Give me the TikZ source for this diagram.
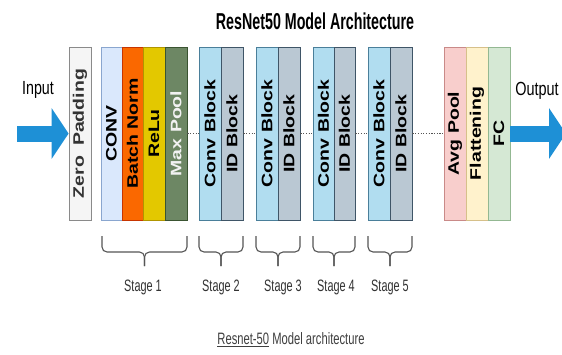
\documentclass[tikz,border=0pt]{standalone}
\usepackage{fontspec}
\setmainfont{Liberation Sans}
\usetikzlibrary{arrows.meta}

% palette
\definecolor{zpFill}{HTML}{F5F5F5}   \definecolor{zpLine}{HTML}{8A8A8A}
\definecolor{convFill}{HTML}{DAE8FC} \definecolor{convLine}{HTML}{8AA6CF}
\definecolor{bnFill}{HTML}{FA6800}   \definecolor{bnLine}{HTML}{C73500}
\definecolor{reluFill}{HTML}{E3C800} \definecolor{reluLine}{HTML}{B09500}
\definecolor{mpFill}{HTML}{6D8764}   \definecolor{mpLine}{HTML}{3A5431}
\definecolor{cbFill}{HTML}{B1DDF0}   \definecolor{cbLine}{HTML}{4A7F9A}
\definecolor{idFill}{HTML}{BAC8D3}   \definecolor{idLine}{HTML}{3F5567}
\definecolor{avgFill}{HTML}{F8CECC}  \definecolor{avgLine}{HTML}{C98A88}
\definecolor{flFill}{HTML}{FFF2CC}   \definecolor{flLine}{HTML}{D6C08A}
\definecolor{fcFill}{HTML}{D5E8D4}   \definecolor{fcLine}{HTML}{93B892}
\definecolor{arrowBlue}{HTML}{1E90D6}
\definecolor{inkGray}{HTML}{333333}
\definecolor{braceGray}{HTML}{555555}

% rotated, slightly narrowed label for the layer boxes
\newcommand{\vlabel}[1]{\rotatebox{90}{\scalebox{1}[0.78]{#1}}}
% horizontally narrowed text
\newcommand{\narrow}[2]{\scalebox{#1}[1]{#2}}
% curly brace under a stage, between two x positions
\newcommand{\stagebrace}[2]{%
  \draw[bracestroke] (#1,236) -- (#1,252) -- ({(#1+#2)/2},252) -- ({(#1+#2)/2},266);
  \draw[bracestroke] (#2,236) -- (#2,252) -- ({(#1+#2)/2},252) -- ({(#1+#2)/2},266);}

\tikzset{
  layer/.style 2 args={fill=#1, draw=#2, line width=0.8pt, inner sep=0pt,
    minimum width=22pt, minimum height=173pt,
    font=\fontsize{19.5}{20}\selectfont\bfseries},
  dotlink/.style={draw=braceGray, line width=1.1pt, dash pattern=on 1.2pt off 1.5pt},
  bigarrow/.style={draw=arrowBlue, line width=16pt,
    -{Triangle[length=17pt,width=50pt]}},
  bracestroke/.style={draw=braceGray, line width=1.1pt, rounded corners=5pt},
  stagelabel/.style={text=inkGray, font=\fontsize{16.5}{18}\selectfont},
}

\begin{document}
\begin{tikzpicture}[x=1pt, y=-1pt]
\useasboundingbox (0,0) rectangle (562,354);
\clip (0,0) rectangle (562,354);
\fill[white] (0,0) rectangle (562,354);

% title
\node (title) at (315,21)
  {\narrow{0.62}{\fontsize{23}{25}\selectfont\bfseries ResNet50 Model Architecture}};

% stem layers
\node[layer={zpFill}{zpLine}, text=inkGray] (zp) at (80,133.5)
  {\vlabel{Zero\hspace{10pt}Padding}};
\node[layer={convFill}{convLine}, minimum width=21pt] (conv) at (111.5,133.5) {\vlabel{CONV}};
\node[layer={bnFill}{bnLine}, minimum width=21pt] (bn) at (132.5,133.5) {\vlabel{Batch Norm}};
\node[layer={reluFill}{reluLine}] (relu) at (154,133.5) {\vlabel{ReLu}};
\node[layer={mpFill}{mpLine}, text=white!90!gray] (mp) at (176,133.5) {\vlabel{Max Pool}};

% residual stages
\node[layer={cbFill}{cbLine}] (cb2) at (210,133.5) {\vlabel{Conv Block}};
\node[layer={idFill}{idLine}] (id2) at (232,133.5) {\vlabel{ID Block}};
\node[layer={cbFill}{cbLine}] (cb3) at (267,133.5) {\vlabel{Conv Block}};
\node[layer={idFill}{idLine}] (id3) at (289,133.5) {\vlabel{ID Block}};
\node[layer={cbFill}{cbLine}, minimum width=21pt] (cb4) at (323.5,133.5) {\vlabel{Conv Block}};
\node[layer={idFill}{idLine}, minimum width=21pt] (id4) at (344.5,133.5) {\vlabel{ID Block}};
\node[layer={cbFill}{cbLine}] (cb5) at (379,133.5) {\vlabel{Conv Block}};
\node[layer={idFill}{idLine}] (id5) at (401,133.5) {\vlabel{ID Block}};

% head
\node[layer={avgFill}{avgLine}] (avg) at (455,133.5) {\vlabel{Avg Pool}};
\node[layer={flFill}{flLine}] (flat) at (477,133.5) {\vlabel{Flattening}};
\node[layer={fcFill}{fcLine}] (fc) at (499,133.5) {\vlabel{FC}};

% dotted links between groups
\draw[dotlink] (mp.east) -- (cb2.west);
\draw[dotlink] (id2.east) -- (cb3.west);
\draw[dotlink] (id3.east) -- (cb4.west);
\draw[dotlink] (id4.east) -- (cb5.west);
\draw[dotlink] (id5.east) -- (avg.west);

% input and output arrows
\coordinate (inStart) at (17,133.5);
\coordinate (outEnd) at (566,133.5);
\draw[bigarrow] (inStart) -- (zp.west);
\draw[bigarrow] (fc.east) -- (outEnd);
\node (inLabel) at (38,90) {\narrow{0.75}{\fontsize{19}{21}\selectfont Input}};
\node (outLabel) at (537,91) {\narrow{0.76}{\fontsize{19}{21}\selectfont Output}};

% stage braces and labels
\stagebrace{102}{187}
\stagebrace{199}{243}
\stagebrace{256}{300}
\stagebrace{313}{355}
\stagebrace{368}{412}
\node[stagelabel] (st1) at (143,287) {\narrow{0.66}{Stage 1}};
\node[stagelabel] (st2) at (221,287) {\narrow{0.66}{Stage 2}};
\node[stagelabel] (st3) at (283,287) {\narrow{0.66}{Stage 3}};
\node[stagelabel] (st4) at (336,287) {\narrow{0.66}{Stage 4}};
\node[stagelabel] (st5) at (390,287) {\narrow{0.66}{Stage 5}};

% caption
\node[text=black!75] (caption) at (291,340)
  {\narrow{0.68}{\fontsize{16.5}{18}\selectfont \underline{Resnet-50} Model architecture}};
\end{tikzpicture}
\end{document}
